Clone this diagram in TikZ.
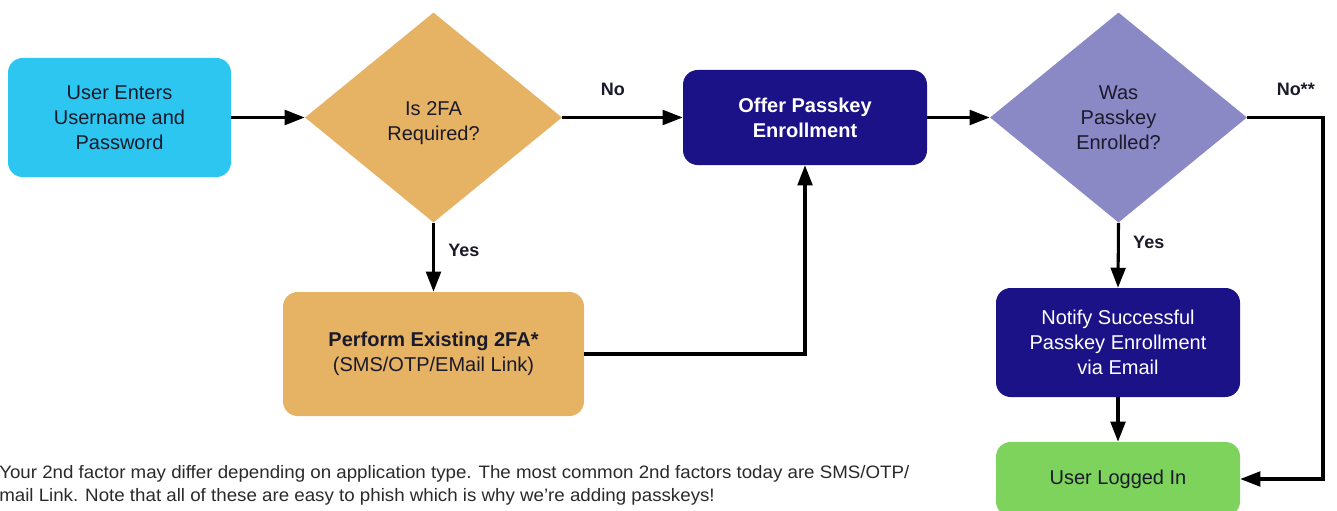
\documentclass[tikz,border=0pt]{standalone}
\usepackage{fontspec}
\setmainfont{Liberation Sans}
\newfontfamily\notefont{Liberation Sans}[FakeStretch=1.04]
\usetikzlibrary{arrows.meta,shapes.geometric}
\definecolor{skyfill}{HTML}{2CC6F1}
\definecolor{tanfill}{HTML}{E6B264}
\definecolor{navyfill}{HTML}{1C1288}
\definecolor{lilacfill}{HTML}{8B88C6}
\definecolor{greenfill}{HTML}{7DD35B}
\definecolor{inktext}{HTML}{1A1A2A}
\definecolor{notetext}{HTML}{2A2A2A}
\begin{document}
\begin{tikzpicture}[x=0.75pt,y=-0.75pt,
  box/.style={rectangle, rounded corners=11pt, inner sep=0pt, align=center,
    font=\fontsize{15}{18.75}\selectfont, text=inktext},
  decision/.style={diamond, inner sep=0pt, align=center,
    font=\fontsize{15}{18.75}\selectfont, text=inktext},
  flow/.style={line width=2.3pt, draw=black,
    -{Triangle[length=15pt,width=11pt]}},
  lbl/.style={font=\bfseries\fontsize{13.5}{16}\selectfont, text=inktext, inner sep=0pt},
  note/.style={font=\notefont\fontsize{13.5}{16}\selectfont, text=notetext, anchor=west, inner sep=0pt}
]
\useasboundingbox (0,0) rectangle (1337,510);

% process boxes
\node[box, fill=skyfill, minimum width=223*0.75pt, minimum height=119*0.75pt]
  (enter) at (119.5,117.5) {User Enters\\Username and\\Password};
\node[box, fill=navyfill, text=white, font=\bfseries\fontsize{15}{18.75}\selectfont,
  minimum width=244*0.75pt, minimum height=95*0.75pt]
  (offer) at (805,117.5) {Offer Passkey\\Enrollment};
\node[box, fill=tanfill, minimum width=301*0.75pt, minimum height=124*0.75pt]
  (twofa) at (433.5,354) {\textbf{Perform Existing 2FA*}\\(SMS/OTP/EMail Link)};
\node[box, fill=navyfill, text=white, minimum width=244*0.75pt, minimum height=109*0.75pt]
  (notify) at (1118,342.5) {Notify Successful\\Passkey Enrollment\\via Email};
\node[box, fill=greenfill, minimum width=244*0.75pt, minimum height=74*0.75pt]
  (done) at (1118,479) {User Logged In};

% decisions (the first one carries its text slightly low)
\node[decision, fill=tanfill, minimum width=257*0.75pt, minimum height=210*0.75pt]
  (need2fa) at (433.5,117.5)
  {\raisebox{-3.8pt}[\height][\depth]{\begin{tabular}{@{}c@{}}Is 2FA\\Required?\end{tabular}}};
\node[decision, fill=lilacfill, minimum width=257*0.75pt, minimum height=210*0.75pt]
  (enrolled) at (1118.5,117.5) {Was\\Passkey\\Enrolled?};

% connectors
\draw[flow] (enter.east) -- (need2fa.west);
\draw[flow] (need2fa.east) -- node[lbl, pos=0.42, above=15pt] {No} (offer.west);
\draw[flow] (need2fa.south) -- node[lbl, pos=0.4, right=10pt] {Yes} (twofa.north);
\draw[flow] (twofa.east) -| (offer.south);
\draw[flow] (offer.east) -- (enrolled.west);
\draw[flow] (enrolled.south) -- node[lbl, pos=0.3, right=10pt] {Yes} (notify.north);
\draw[flow] (notify.south) -- (done.north);
\coordinate (turn) at (1323,117.5);
\draw[flow] (enrolled.east) -- node[lbl, pos=0.64, above=15pt] {No**} (turn) |- (done.east);

% footnote
\node[note] (note1) at (-1,474) {Your 2nd factor may differ depending on application type. The most common 2nd factors today are SMS/OTP/};
\node[note] (note2) at (-1,497) {mail Link. Note that all of these are easy to phish which is why we’re adding passkeys!};
\end{tikzpicture}
\end{document}
